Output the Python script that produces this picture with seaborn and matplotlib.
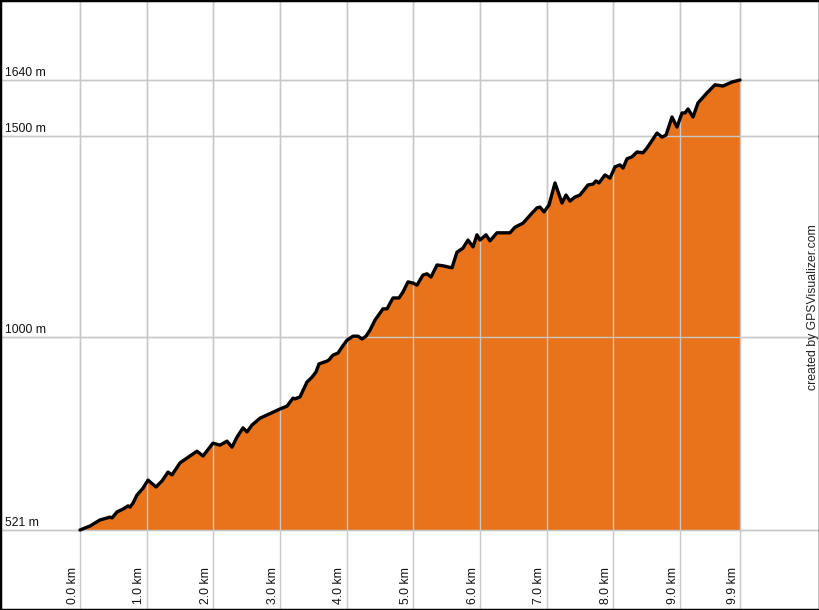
import matplotlib
matplotlib.use("Agg")
import matplotlib.pyplot as plt
import seaborn as sns
import pandas as pd
from matplotlib.patches import Rectangle

# Profile data (distance in km, elevation in m)
dist_km = [0.00, 0.15, 0.30, 0.45, 0.48, 0.555, 0.645, 0.72, 0.75, 0.795, 0.855, 0.945,
           1.02, 1.14, 1.23, 1.32, 1.38, 1.50, 1.605, 1.755, 1.845, 1.995, 2.10, 2.205,
           2.28, 2.355, 2.445, 2.505, 2.58, 2.70, 3.00, 3.105, 3.195, 3.225, 3.30, 3.405,
           3.48, 3.54, 3.585, 3.705, 3.735, 3.795, 3.87, 3.93, 4.005, 4.095, 4.17, 4.23,
           4.29, 4.35, 4.425, 4.545, 4.605, 4.695, 4.785, 4.845, 4.92, 4.995, 5.055, 5.145,
           5.205, 5.265, 5.355, 5.445, 5.58, 5.655, 5.745, 5.82, 5.895, 5.955, 6.00, 6.09,
           6.15, 6.255, 6.45, 6.525, 6.645, 6.78, 6.855, 6.90, 6.96, 7.035, 7.125, 7.23,
           7.29, 7.35, 7.425, 7.50, 7.62, 7.695, 7.74, 7.785, 7.875, 7.95, 8.025, 8.10,
           8.145, 8.205, 8.28, 8.355, 8.445, 8.505, 8.655, 8.73, 8.79, 8.88, 8.955, 9.03,
           9.075, 9.12, 9.195, 9.27, 9.405, 9.525, 9.645, 9.78, 9.90]
elev_m = [521, 531, 546, 553, 551, 566, 573, 581, 578, 588, 608, 625,
          645, 628, 643, 665, 658, 688, 700, 717, 705, 737, 732, 742,
          727, 752, 775, 765, 782, 799, 822, 829, 849, 847, 852, 889,
          901, 914, 934, 941, 944, 956, 961, 976, 993, 1003, 1003, 996,
          1003, 1018, 1043, 1071, 1071, 1098, 1098, 1113, 1138, 1135, 1130, 1155,
          1158, 1150, 1180, 1178, 1173, 1212, 1222, 1242, 1225, 1255, 1242, 1255,
          1240, 1260, 1260, 1274, 1284, 1309, 1322, 1324, 1312, 1329, 1384, 1334,
          1354, 1339, 1349, 1354, 1379, 1381, 1389, 1384, 1404, 1396, 1424, 1429,
          1421, 1444, 1449, 1461, 1459, 1471, 1508, 1498, 1503, 1548, 1523, 1558,
          1558, 1568, 1548, 1583, 1608, 1628, 1625, 1635, 1640]

x_ticks = [0.0, 1.0, 2.0, 3.0, 4.0, 5.0, 6.0, 7.0, 8.0, 9.0, 9.9]
x_tick_labels = ["0.0 km", "1.0 km", "2.0 km", "3.0 km", "4.0 km", "5.0 km",
                 "6.0 km", "7.0 km", "8.0 km", "9.0 km", "9.9 km"]
y_ticks = [521, 1000, 1500, 1640]
y_tick_labels = ["521 m", "1000 m", "1500 m", "1640 m"]

df = pd.DataFrame({"km": dist_km, "m": elev_m})

sns.set_style("white")
plt.rcParams["font.family"] = ["Liberation Sans", "DejaVu Sans"]

fig = plt.figure(figsize=(8.2, 6.1), dpi=100)
ax = fig.add_axes([0, 0, 1, 1])

# scale: 66.667 px per km, 0.40214 px per m
ax.set_xlim(-1.2, 11.1)
ax.set_ylim(322.1, 1838.9)

grid_c = "#c8c8c8"
for xv in x_ticks:
    ax.axvline(xv, color=grid_c, lw=1.0, zorder=0)
for yv in y_ticks:
    ax.axhline(yv, color=grid_c, lw=1.0, zorder=0)

ax.fill_between(df["km"], df["m"], min(y_ticks), color="#E8731A", zorder=1, lw=0)
# grid lines also show over the fill (as in the reference)
for xv in x_ticks:
    ax.plot([xv, xv], [min(y_ticks), 1838.9], color=grid_c, lw=1.0, zorder=1.5)
for yv in y_ticks:
    ax.axhline(yv, color=grid_c, lw=1.0, zorder=1.5)
sns.lineplot(data=df, x="km", y="m", ax=ax, color="black", lw=2.4, zorder=3,
             sort=False, estimator=None)

ax.set_xticks([])
ax.set_yticks([])
ax.set_xlabel("")
ax.set_ylabel("")
for s in ax.spines.values():
    s.set_visible(False)

for yv, lab in zip(y_ticks, y_tick_labels):
    fig.text(5 / 820, 1 - (530 - (yv - 521) * 0.40214 - 1.5) / 610, lab,
             fontsize=8.8, color="#111111", ha="left", va="bottom")
for xv, lab in zip(x_ticks, x_tick_labels):
    ax.annotate(lab, xy=(xv, 0), xycoords=("data", "figure fraction"),
                xytext=(-1, 4), textcoords="offset points",
                rotation=90, fontsize=8.8, color="#111111", ha="right", va="bottom")

fig.text(813 / 820, 0.497, "created by GPSVisualizer.com", rotation=90,
         fontsize=8.8, color="#222222", ha="center", va="center")

fig.patches.append(Rectangle((0, 0), 1, 1, transform=fig.transFigure,
                             fill=False, edgecolor="black", lw=2.5))

fig.savefig("out.png", dpi=100)
